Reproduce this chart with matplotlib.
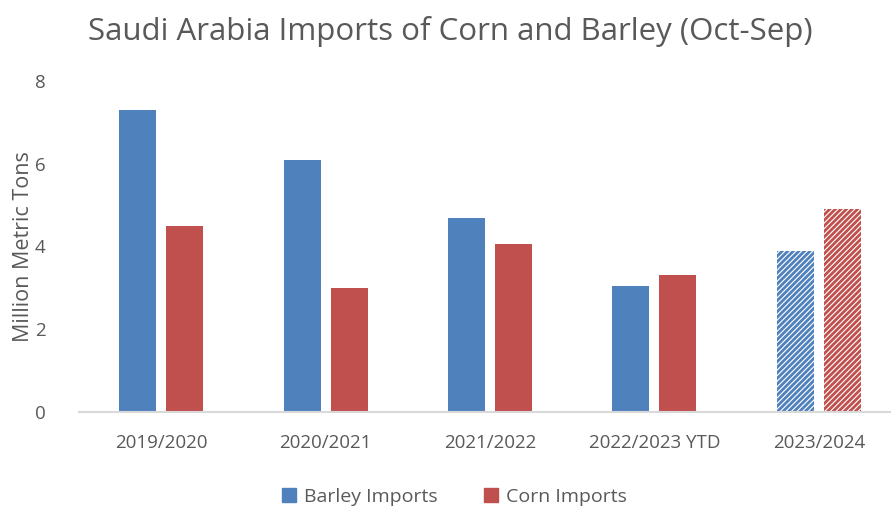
import matplotlib.pyplot as plt
import numpy as np

# Importaciones de maíz y cebada de Arabia Saudí (oct-sep)
campanas = ["2019/2020", "2020/2021", "2021/2022", "2022/2023 YTD", "2023/2024"]
cebada = [7.3, 6.1, 4.7, 3.05, 3.9]
maiz = [4.5, 3.0, 4.05, 3.3, 4.9]
pronostico = [False, False, False, False, True]

azul = "#4F81BD"
rojo = "#C0504D"
gris = "#595959"

plt.rcParams["font.family"] = ["Open Sans", "DejaVu Sans"]
plt.rcParams["hatch.linewidth"] = 2.0

fig = plt.figure(figsize=(8.91, 5.08), dpi=100)
ax = fig.add_axes([0.0887, 0.189, 0.9226, 0.6516])

x = np.arange(len(campanas))
ancho = 0.225
desp = 0.143

for i in range(len(campanas)):
    if pronostico[i]:
        ax.bar(x[i] - desp, cebada[i], ancho, facecolor="white", edgecolor=azul,
               hatch="//////", linewidth=0)
        ax.bar(x[i] + desp, maiz[i], ancho, facecolor="white", edgecolor=rojo,
               hatch="//////", linewidth=0)
    else:
        ax.bar(x[i] - desp, cebada[i], ancho, color=azul)
        ax.bar(x[i] + desp, maiz[i], ancho, color=rojo)

ax.set_xlim(-0.5, 4.5)
ax.set_ylim(0, 8)
ax.set_yticks([0, 2, 4, 6, 8])
ax.set_xticks(x)
ax.set_xticklabels(campanas)
ax.tick_params(axis="both", length=0, labelsize=13.5, colors=gris)
ax.tick_params(axis="x", pad=16)
ax.tick_params(axis="y", pad=24)

for lado in ["top", "right", "left"]:
    ax.spines[lado].set_visible(False)
ax.spines["bottom"].set_color("#D9D9D9")
ax.spines["bottom"].set_linewidth(1.5)

ax.set_ylabel("Million Metric Tons", fontsize=15.5, color=gris, labelpad=1)

fig.text(0.505, 0.938, "Saudi Arabia Imports of Corn and Barley (Oct-Sep)",
         ha="center", va="center", fontsize=22.5, color=gris)

manejadores = [plt.Rectangle((0, 0), 1, 1, color=azul),
               plt.Rectangle((0, 0), 1, 1, color=rojo)]
fig.legend(manejadores, ["Barley Imports", "Corn Imports"], loc="center",
           bbox_to_anchor=(0.51, 0.022), ncol=2, frameon=False, fontsize=14,
           labelcolor=gris, handlelength=0.7, handleheight=0.7,
           handletextpad=0.4, columnspacing=2.4)

fig.savefig("out.png", dpi=100)
